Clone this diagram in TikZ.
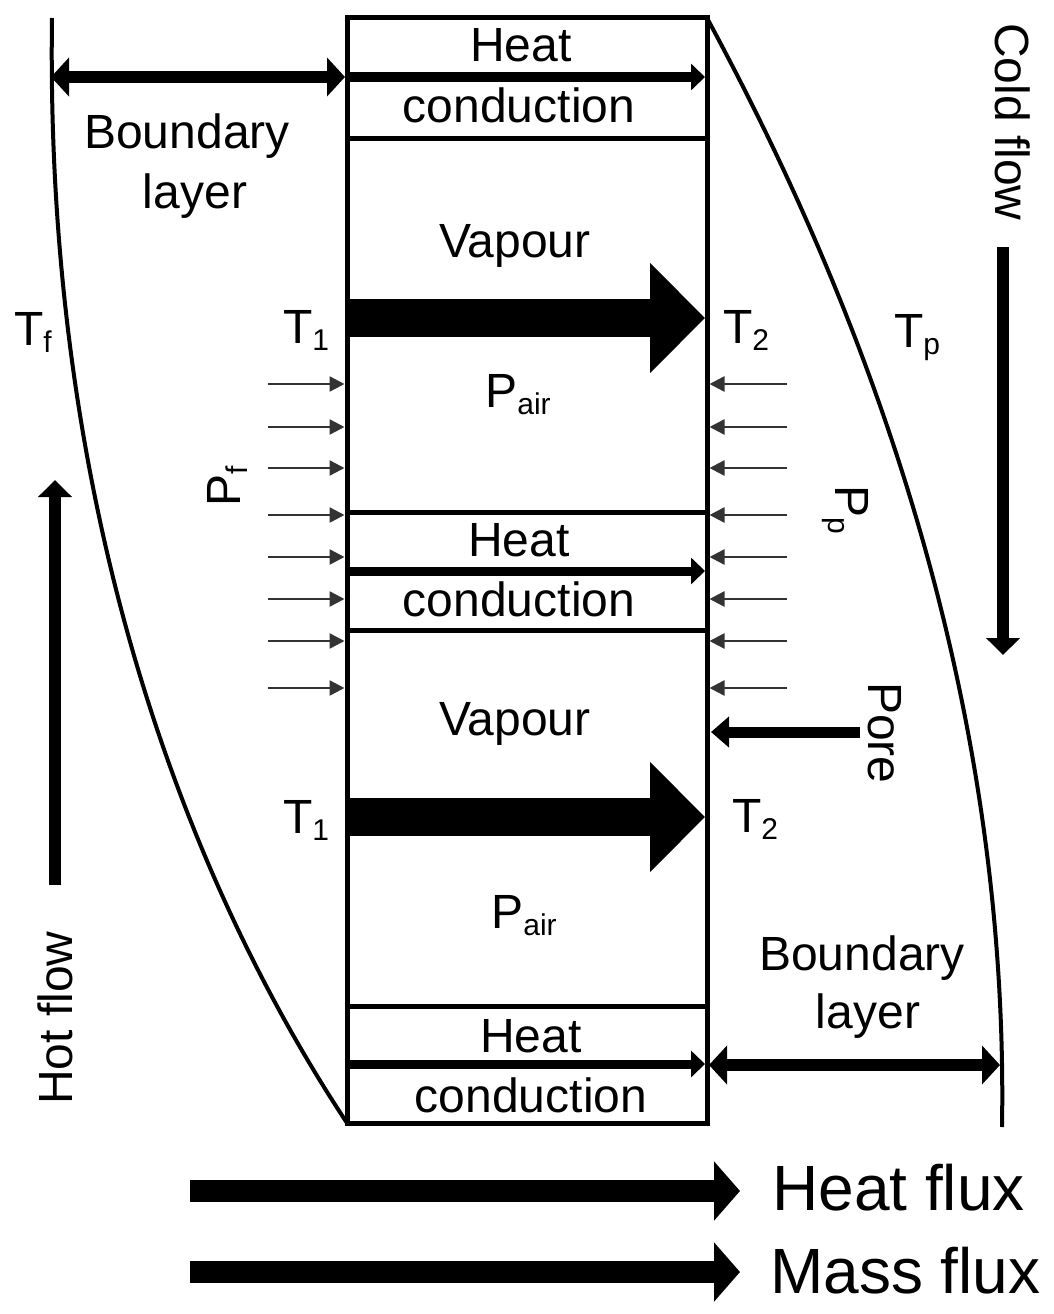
\documentclass[tikz,border=0pt]{standalone}
\usepackage{fontspec}
\setmainfont{Liberation Sans}
\usetikzlibrary{arrows.meta}
\newcommand\lsub[1]{\raisebox{-7pt}{\fontsize{30}{30}\selectfont #1}}
\begin{document}
\begin{tikzpicture}[x=1pt,y=-1pt,
  lbl/.style={inner sep=0pt, anchor=base, font=\fontsize{48}{52}\selectfont},
  bigtxt/.style={inner sep=0pt, anchor=base west, font=\fontsize{64}{70}\selectfont},
  wall/.style={line width=5pt},
  bcurve/.style={line width=4pt},
  thinarrow/.style={line width=2.5pt, black!80, -{Triangle[length=15pt,width=15pt]}},
  condarrow/.style={line width=9pt, -{Triangle[length=14pt,width=26pt]}},
  vaparrow/.style={line width=38pt, -{Triangle[length=55pt,width=107pt]}},
  blarrow/.style={line width=12pt, {Triangle[length=18pt,width=38pt]}-{Triangle[length=18pt,width=38pt]}},
  flowarrow/.style={line width=12pt, -{Triangle[length=17pt,width=33pt]}},
  fluxarrow/.style={line width=22pt, -{Triangle[length=26pt,width=58pt]}}]
\useasboundingbox (0,0) rectangle (1054,1314);

% membrane frame
\coordinate (TL) at (347,18);
\coordinate (TR) at (707,18);
\coordinate (BL) at (347,1123);
\coordinate (BR) at (707,1123);
\draw[wall] (TL) rectangle (BR);
\foreach \yy in {138,512,630,1006} { \draw[wall] (347,\yy) -- (707,\yy); }

% boundary layer curves
\coordinate (LT) at (52,18);
\coordinate (RB) at (1002,1127);
\draw[bcurve] (LT) .. controls (45,500) and (180,870) .. (BL);
\draw[bcurve] (TR) .. controls (835,255) and (1010,650) .. (RB);

% small pressure arrows
\foreach \yy in {384,427,468,515,557,599,641,688} {
  \draw[thinarrow] (268,\yy) -- (344.5,\yy);
  \draw[thinarrow] (787,\yy) -- (709.5,\yy);
}

% heat conduction arrows
\draw[condarrow] (347,77) -- (705,77);
\draw[condarrow] (347,571) -- (705,571);
\draw[condarrow] (347,1064) -- (705,1064);

% vapour arrows
\draw[vaparrow] (347,318) -- (705,318);
\draw[vaparrow] (347,817) -- (705,817);

% boundary layer arrows
\coordinate (bla) at (51,77);
\coordinate (blb) at (345,77);
\draw[blarrow] (bla) -- (blb);
\coordinate (blc) at (709,1065);
\coordinate (bld) at (1000,1065);
\draw[blarrow] (blc) -- (bld);

% pore arrow
\coordinate (pa) at (860,732);
\coordinate (pb) at (711,732);
\draw[line width=11pt, -{Triangle[length=18pt,width=30pt]}] (pa) -- (pb);

% flow arrows
\coordinate (ca) at (1003,247);
\coordinate (cb) at (1003,655);
\draw[flowarrow] (ca) -- (cb);
\coordinate (ha) at (55,885);
\coordinate (hb) at (55,480);
\draw[flowarrow] (ha) -- (hb);

% flux arrows
\coordinate (hfa) at (190,1191);
\coordinate (hfb) at (740,1191);
\draw[fluxarrow] (hfa) -- (hfb);
\coordinate (mfa) at (190,1272);
\coordinate (mfb) at (740,1272);
\draw[fluxarrow] (mfa) -- (mfb);

% texts
\node[lbl] (heat1) at (521,62) {Heat};
\node[lbl] (cond1) at (519,122) {conduction};
\node[lbl] (heat2) at (519,556) {Heat};
\node[lbl] (cond2) at (519,616) {conduction};
\node[lbl] (heat3) at (531,1052) {Heat};
\node[lbl] (cond3) at (531,1112) {conduction};
\node[lbl] (vap1) at (515,257) {Vapour};
\node[lbl] (vap2) at (515,735) {Vapour};
\node[lbl] (pair1) at (518,407) {P\lsub{air}};
\node[lbl] (pair2) at (524,928) {P\lsub{air}};
\node[lbl] (t1a) at (306,343) {T\lsub{1}};
\node[lbl] (t1b) at (306,833) {T\lsub{1}};
\node[lbl] (t2a) at (746,343) {T\lsub{2}};
\node[lbl] (t2b) at (755,832) {T\lsub{2}};
\node[lbl] (tf) at (33,345) {T\lsub{f}};
\node[lbl] (tp) at (917,347) {T\lsub{p}};
\node[lbl] (bl1a) at (187,148) {Boundary};
\node[lbl] (bl1b) at (195,208) {layer};
\node[lbl] (bl2a) at (862,970) {Boundary};
\node[lbl] (bl2b) at (868,1028) {layer};
\node[lbl, anchor=base west, rotate=-90] (cold) at (995,23) {Cold flow};
\node[lbl, anchor=base west, rotate=90] (hot) at (72,1105) {Hot flow};
\node[lbl, anchor=base west, rotate=-90] (pore) at (868,682) {Pore};
\node[lbl, anchor=base west, rotate=-90] (pp) at (835,485) {P\lsub{p}};
\node[lbl, anchor=base west, rotate=90] (pf) at (240,507) {P\lsub{f}};
\node[bigtxt] (hf) at (772,1210) {Heat flux};
\node[bigtxt] (mf) at (770,1293) {Mass flux};
\end{tikzpicture}
\end{document}
